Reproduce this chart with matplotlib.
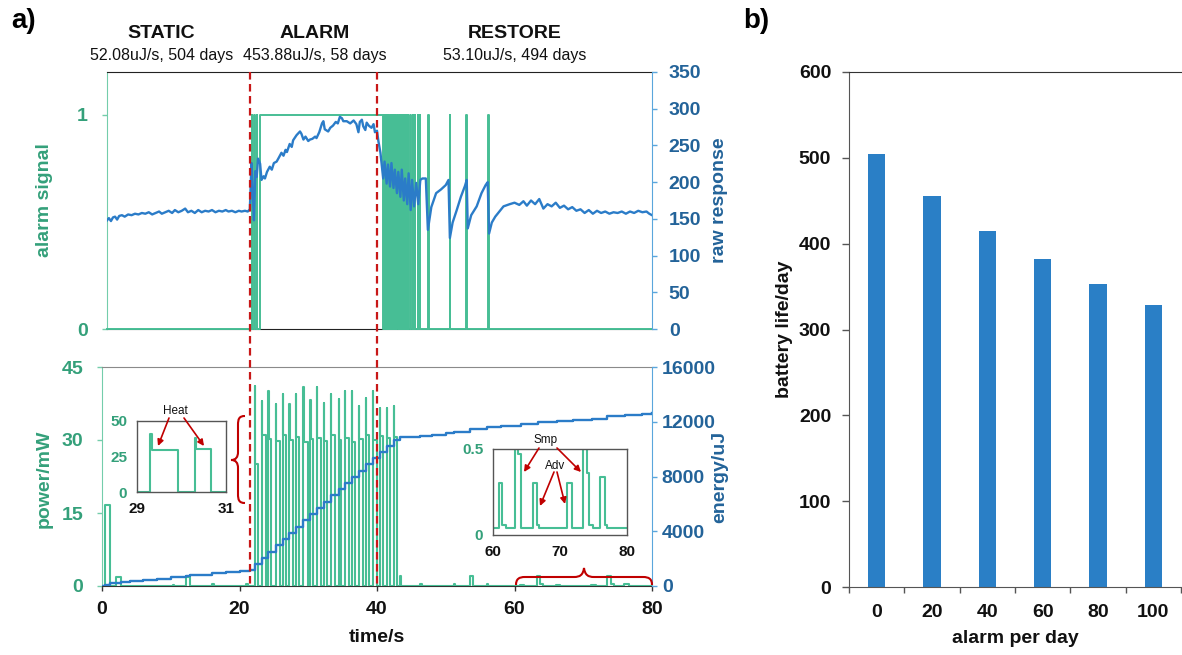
import matplotlib
matplotlib.use("Agg")
import matplotlib.pyplot as plt
from matplotlib.lines import Line2D
from matplotlib.patches import PathPatch, FancyArrowPatch
from matplotlib.path import Path
from matplotlib.transforms import Affine2D, blended_transform_factory

plt.rcParams["font.family"] = ["Liberation Sans", "DejaVu Sans"]

# ---------------- data ----------------
# phase boundaries (s)
phase_edges = [21.5, 40.0]
phase_names = ["STATIC", "ALARM", "RESTORE"]
phase_notes = ["52.08uJ/s, 504 days", "453.88uJ/s, 58 days", "53.10uJ/s, 494 days"]

# alarm signal: on/off times (s)
alarm_on = [21.75, 22.15, 22.5, 22.95, 41.0, 41.3, 41.55, 41.8, 42.05, 42.3, 42.55,
            42.8, 43.1, 43.35, 43.6, 43.9, 44.2, 44.5, 44.85, 45.2, 45.5, 45.9, 46.2,
            47.45, 50.55, 53.0, 56.2]
alarm_off = [21.8, 22.2, 22.55, 40.8, 41.05, 41.35, 41.6, 41.85, 42.1, 42.35, 42.6,
             42.85, 43.15, 43.4, 43.65, 43.95, 44.25, 44.55, 44.9, 45.25, 45.55, 45.95,
             46.25, 47.55, 50.65, 53.1, 56.3]

# raw sensor response
raw_t = [0.73, 1.0, 1.3, 1.6, 1.9, 2.2, 2.5, 2.9, 3.3, 3.8, 4.3, 4.8, 5.3, 5.8, 6.3, 6.8,
         7.3, 7.8, 8.3, 8.7, 9.2, 9.7, 10.2, 10.6, 11.1, 11.6, 12.1, 12.5, 13.0, 13.5,
         14.0, 14.5, 15.0, 15.5, 16.0, 16.5, 17.0, 17.5, 18.0, 18.4, 18.9, 19.4, 19.9,
         20.3, 20.8, 21.2, 21.5,
         21.75, 21.9, 22.1, 22.3, 22.5, 22.7, 23.0, 23.2, 23.5, 23.7, 24.0, 24.4, 24.7,
         25.0, 25.4, 25.7, 26.1, 26.4, 26.7, 26.9, 27.3, 27.6, 27.8, 28.3, 28.8, 29.0,
         29.3, 29.6, 30.0, 30.25, 30.6, 31.0, 31.2, 31.6, 32.0, 32.2, 32.4, 32.9, 33.2,
         33.6, 34.0, 34.3, 34.6, 34.9, 35.1, 35.6, 36.1, 36.6, 37.0, 37.3, 37.5, 37.8,
         38.0, 38.3, 38.5, 38.8, 39.2, 39.5, 39.7, 40.0, 40.2,
         40.5, 40.9, 41.1, 41.4, 41.6, 41.9, 42.1, 42.4, 42.6, 42.9, 43.1, 43.4, 43.6,
         43.9, 44.1, 44.4, 44.6, 44.9, 45.1, 45.4, 45.7, 46.0, 46.3, 46.6, 47.1, 47.4,
         47.9, 48.6, 49.3, 50.0, 50.4, 50.6, 51.0, 51.6, 52.2, 52.8, 53.05, 53.2, 53.7,
         54.5, 55.2, 55.8, 56.1, 56.3, 56.7, 57.2, 57.8, 58.4, 59.3, 60.0, 60.7, 61.3,
         61.8, 62.4, 63.0, 63.6, 64.2, 64.8, 65.4, 66.0, 66.6, 67.2, 67.8, 68.4, 69.0,
         69.6, 70.2, 70.8, 71.4, 72.0, 72.6, 73.2, 73.8, 74.4, 75.0, 75.6, 76.2, 76.8,
         77.4, 78.0, 78.6, 79.2, 79.6, 80.0]
raw_v = [148, 151, 147, 152, 153, 149, 154, 155, 153, 156, 155, 157, 156, 158, 157, 159,
         156, 158, 160, 157, 159, 161, 158, 162, 159, 161, 164, 159, 161, 158,
         162, 159, 161, 160, 162, 159, 161, 160, 162, 160, 161, 159, 161,
         160, 161, 160, 163,
         226, 190, 148, 215, 207, 232, 225, 203, 208, 205, 214, 221, 217,
         226, 228, 233, 240, 236, 244, 241, 252, 248, 257, 264, 269, 266,
         258, 262, 256, 258, 259, 262, 260, 268, 280, 283, 272, 269, 274,
         277, 282, 280, 289, 287, 283, 283, 280, 284, 279, 268, 282, 285,
         276, 271, 281, 277, 274, 279, 268, 270, 256,
         240, 205, 228, 198, 224, 194, 226, 192, 217, 185, 214, 180, 217,
         175, 205, 170, 212, 162, 203, 167, 199, 170, 203, 205, 205, 135,
         166, 185, 190, 196, 203, 124, 145, 162, 180, 195, 203, 137, 155,
         167, 185, 196, 200, 130, 145, 153, 160, 167, 170, 172, 169, 174,
         168, 175, 170, 177, 164, 170, 167, 172, 165, 168, 163, 166, 161,
         163, 158, 162, 157, 161, 158, 160, 157, 159, 158, 160, 157, 160,
         158, 161, 159, 160, 157, 155]

# heating cycles during the alarm (start s, spike mW, plateau mW, duration s)
heat_start = [22.25, 23.2, 24.2, 25.3, 26.3, 27.25, 28.2, 29.3, 30.3, 31.3, 32.3,
              33.3, 34.4, 35.3, 36.4, 37.4, 38.35, 39.4, 40.4, 41.4, 42.4]
heat_peak = [41.1, 38.0, 40.1, 37.5, 39.4, 37.4, 39.5, 40.9, 38.2, 40.8, 37.7,
             39.5, 38.4, 40.1, 40.1, 37.0, 38.6, 40.1, 36.5, 36.5, 37.0]
heat_level = [25.1, 31.0, 30.2, 29.8, 31.0, 30.0, 30.6, 29.6, 30.3, 30.5, 29.8,
              31.0, 30.0, 30.4, 29.6, 30.2, 31.0, 30.0, 30.8, 30.5, 30.6]
heat_len = [0.45, 0.6, 0.4, 0.6, 0.45, 0.55, 0.4, 0.63, 0.36, 0.6, 0.45,
            0.55, 0.4, 0.6, 0.45, 0.55, 0.45, 0.6, 0.5, 0.55, 0.45]

# other power events: sampling / advertising (start s, end s, mW)
pulse_start = [0.45, 2.1, 10.3, 12.2, 16.0, 21.0, 43.3, 46.3, 51.2, 53.5, 56.0, 60.85,
               61.4, 63.3, 63.7, 66.0, 66.6, 71.1, 73.4, 74.0, 74.4, 75.9, 76.7]
pulse_end = [1.15, 2.8, 10.5, 12.8, 16.3, 21.3, 43.55, 46.5, 51.4, 53.9, 56.2, 61.4,
             61.9, 63.7, 64.2, 66.6, 66.9, 71.8, 74.0, 74.4, 74.9, 76.7, 77.0]
pulse_level = [16.6, 1.9, 0.3, 1.9, 0.35, 0.5, 2.1, 0.35, 0.35, 2.1, 0.35, 0.30,
               0.06, 2.1, 0.47, 0.30, 0.06, 0.30, 2.1, 0.36, 0.06, 0.34, 0.06]
power_base = 0.04

# accumulated energy (uJ)
energy_t = [0, 0.45, 1.15, 2.1, 2.8, 4, 6, 8, 10, 12.2, 12.8, 14, 16, 18, 20, 21.5,
            22.25, 23.2, 24.2, 25.3, 26.3, 27.25, 28.2, 29.3, 30.3, 31.3, 32.3, 33.3,
            34.4, 35.3, 36.4, 37.4, 38.35, 39.4, 40.4, 41.4, 42.4,
            43.3, 46.3, 48, 50, 51.2, 53.5, 56, 58, 61.0, 63.4, 66.2, 68.5, 71.2, 73.5,
            76.1, 78.5, 80]
energy_v = [0, 60, 210, 240, 300, 360, 450, 540, 630, 700, 790, 840, 920, 1000, 1080, 1150,
            1600, 2050, 2510, 2960, 3420, 3870, 4340, 4790, 5240, 5700, 6150, 6620,
            7070, 7520, 7980, 8430, 8900, 9350, 9800, 10260, 10700,
            10850, 10950, 11050, 11150, 11230, 11480, 11620, 11700, 11820, 11960, 12060,
            12130, 12230, 12390, 12490, 12570, 12630]

# battery life vs alarm frequency
alarms_per_day = ["0", "20", "40", "60", "80", "100"]
battery_days = [504, 456, 415, 382, 353, 328]

# ---------------- styling ----------------
GREEN = "#47BE95"
GREEN_TXT = "#34A07A"
GREEN_SPINE = "#74CDAB"
BLUE = "#2B7CC8"
BLUE_TXT = "#236399"
BLUE_SPINE = "#5AA6DC"
RED = "#C81818"
BAR = "#2A7FC6"
BOLD14 = dict(fontsize=14, fontweight="bold")

W, H = 1182, 655
fig = plt.figure(figsize=(W / 100, H / 100), dpi=100)
PX = Affine2D().scale(1 / W, -1 / H).translate(0, 1) + fig.transFigure


def rect(x0, y0, x1, y1):
    return [x0 / W, 1 - y1 / H, (x1 - x0) / W, (y1 - y0) / H]


def step_points(starts, ends, levels, base, t0, t1):
    pts = {t0: base, t1: base}
    for e in ends:
        pts[e] = base
    for s, v in zip(starts, levels):
        pts[s] = v
    ts = sorted(pts)
    return ts, [pts[t] for t in ts]


# signals as step series
alarm_t, alarm_v = step_points(alarm_on, alarm_off, [1] * len(alarm_on), 0, 0.727, 80)

seg_s, seg_e, seg_v = list(pulse_start), list(pulse_end), list(pulse_level)
for s, pk, lv, ln in zip(heat_start, heat_peak, heat_level, heat_len):
    seg_s += [s, s + 0.03]
    seg_e += [s + 0.03, s + ln]
    seg_v += [pk, lv]
power_t, power_v = step_points(seg_s, seg_e, seg_v, power_base, 0, 80)

# ---------------- top panel: alarm signal / raw response ----------------
ax_top = fig.add_axes(rect(107, 72, 652, 329))
ax_top.set_xlim(0.727, 80)
ax_top.set_ylim(0, 1.2)
ax_top.plot(alarm_t, alarm_v, color=GREEN, lw=1.4, drawstyle="steps-post",
            zorder=3, clip_on=False)
ax_top.set_yticks([0, 1])
ax_top.set_yticklabels(["0", "1"], **BOLD14)
ax_top.tick_params(axis="y", direction="out", length=3.6, width=1, color=GREEN_SPINE,
                   labelcolor=GREEN_TXT, pad=10)
ax_top.tick_params(axis="x", bottom=False, labelbottom=False)
ax_top.spines["left"].set_color(GREEN_SPINE)
ax_top.spines["top"].set_color("#222222")
ax_top.spines["bottom"].set_color("#222222")
ax_top.spines["right"].set_visible(False)
ax_top.set_ylabel("alarm signal", color=GREEN_TXT, **BOLD14)
ax_top.yaxis.set_label_coords(-0.099, 0.5)

ax_raw = ax_top.twinx()
ax_raw.plot(raw_t, raw_v, color=BLUE, lw=1.7, zorder=3)
ax_raw.set_ylim(0, 350)
ax_raw.set_yticks(range(0, 351, 50))
ax_raw.set_yticklabels([str(v) for v in range(0, 351, 50)], **BOLD14)
ax_raw.tick_params(axis="y", direction="out", length=3.6, width=1, color=BLUE_SPINE,
                   labelcolor=BLUE_TXT, pad=8.5)
for side in ["left", "top", "bottom"]:
    ax_raw.spines[side].set_visible(False)
ax_raw.spines["right"].set_color(BLUE_SPINE)
ax_raw.set_ylabel("raw response", color=BLUE_TXT, rotation=90, **BOLD14)
ax_raw.yaxis.set_label_coords(1.108, 0.5)

# ---------------- bottom panel: power / energy ----------------
ax_bot = fig.add_axes(rect(102, 367, 652, 586))
ax_bot.set_xlim(0, 80)
ax_bot.set_ylim(0, 45)
ax_bot.plot(power_t, power_v, color=GREEN, lw=1.5, drawstyle="steps-post", zorder=3)
ax_bot.set_yticks([0, 15, 30, 45])
ax_bot.set_yticklabels(["0", "15", "30", "45"], **BOLD14)
ax_bot.set_xticks([0, 20, 40, 60, 80])
ax_bot.set_xticklabels(["0", "20", "40", "60", "80"], **BOLD14)
ax_bot.tick_params(axis="y", direction="out", length=3.6, width=1, color=GREEN_SPINE,
                   labelcolor=GREEN_TXT, pad=10)
ax_bot.tick_params(axis="x", direction="out", length=3.6, width=1, color="#333333",
                   labelcolor="#111111", pad=7)
ax_bot.spines["left"].set_color(GREEN_SPINE)
ax_bot.spines["top"].set_color("#8A8A8A")
ax_bot.spines["bottom"].set_color("#333333")
ax_bot.spines["right"].set_visible(False)
ax_bot.set_ylabel("power/mW", color=GREEN_TXT, **BOLD14)
ax_bot.yaxis.set_label_coords(-0.089, 0.49)
ax_bot.set_xlabel("time/s", color="#111111", **BOLD14)
ax_bot.xaxis.set_label_coords(0.5, -0.196)

ax_en = ax_bot.twinx()
ax_en.plot(energy_t, energy_v, color=BLUE, lw=1.7, drawstyle="steps-post", zorder=3)
ax_en.set_ylim(0, 16000)
ax_en.set_yticks(range(0, 16001, 4000))
ax_en.set_yticklabels([str(v) for v in range(0, 16001, 4000)], **BOLD14)
ax_en.tick_params(axis="y", direction="out", length=3.6, width=1, color=BLUE_SPINE,
                  labelcolor=BLUE_TXT, pad=3.5)
for side in ["left", "top", "bottom"]:
    ax_en.spines[side].set_visible(False)
ax_en.spines["right"].set_color(BLUE_SPINE)
ax_en.set_ylabel("energy/uJ", color=BLUE_TXT, rotation=90, **BOLD14)
ax_en.yaxis.set_label_coords(1.107, 0.5)

# ---------------- insets ----------------
def inset(r, xlim, ylim, yt, ytl, xt, xtl):
    a = fig.add_axes(rect(*r))
    a.plot(power_t, power_v, color=GREEN, lw=1.5, drawstyle="steps-post")
    a.set_xlim(*xlim)
    a.set_ylim(*ylim)
    a.set_yticks(yt)
    a.set_yticklabels(ytl, fontsize=11, fontweight="bold", color=GREEN_TXT)
    a.set_xticks(xt)
    a.set_xticklabels(xtl, fontsize=11, fontweight="bold", color="#111111")
    a.tick_params(length=0, pad=7)
    for sp in a.spines.values():
        sp.set_color("#555555")
        sp.set_linewidth(1.0)
    a.set_facecolor("white")
    return a


ins_heat = inset((137, 421, 226, 492), (29, 31), (0, 50), [0, 25, 50], ["0", "25", "50"],
                 [29, 31], ["29", "31"])
ins_smp = inset((493, 449, 627, 535), (60, 80), (0, 0.5), [0, 0.5], ["0", "0.5"],
                [60, 70, 80], ["60", "70", "80"])

# ---------------- phase markers ----------------
vtrans = blended_transform_factory(ax_bot.transData, fig.transFigure)
for xe in phase_edges:
    fig.add_artist(Line2D([xe, xe], [1 - 72 / H, 1 - 586 / H], transform=vtrans,
                          color=RED, lw=1.6, dashes=(3.4, 2.0), zorder=5))

name_x = [161.5, 314.5, 515]
for nx, name, note in zip(name_x, phase_names, phase_notes):
    fig.text(nx / W, 1 - 33 / H, name, ha="center", va="center", fontsize=14,
             fontweight="bold", color="#111111")
    fig.text(nx / W, 1 - 55.5 / H, note, ha="center", va="center", fontsize=11.5,
             color="#111111")

fig.text(23.5 / W, 1 - 21.5 / H, "a)", ha="center", va="center", fontsize=20,
         fontweight="bold")
fig.text(756 / W, 1 - 21.5 / H, "b)", ha="center", va="center", fontsize=20,
         fontweight="bold")

# braces linking the zoomed views
brace_v = [(245, 416), (239, 416), (238, 419), (238, 425), (238, 452), (238, 457),
           (236, 460), (231, 460), (236, 460), (238, 463), (238, 468), (238, 494),
           (238, 500), (239, 503), (245, 503)]
brace_h = [(516, 585), (516, 579), (519, 577), (525, 577), (574, 577), (580, 577),
           (583, 575), (584, 568), (585, 575), (588, 577), (594, 577), (643, 577),
           (649, 577), (652, 579), (652, 585)]
codes = [Path.MOVETO, Path.CURVE4, Path.CURVE4, Path.CURVE4, Path.LINETO,
         Path.CURVE4, Path.CURVE4, Path.CURVE4, Path.CURVE4, Path.CURVE4, Path.CURVE4,
         Path.LINETO, Path.CURVE4, Path.CURVE4, Path.CURVE4]
for verts in (brace_v, brace_h):
    fig.add_artist(PathPatch(Path(verts, codes), transform=PX, fill=False,
                             edgecolor="#C00000", lw=1.5, zorder=5))

# annotation arrows
arrows = [((169, 418), (158, 446)), ((184, 418), (204, 446)),
          ((539, 448), (524, 472)), ((557, 448), (581, 472)),
          ((554, 472), (540, 506)), ((557, 472), (565, 504))]
for a0, a1 in arrows:
    fig.add_artist(FancyArrowPatch(a0, a1, transform=PX, arrowstyle="-|>",
                                   mutation_scale=9, color="#C00000", lw=1.2,
                                   shrinkA=0, shrinkB=0, zorder=6))
for tx, ty, lab in [(175.5, 411, "Heat"), (546, 439.5, "Smp"), (555.3, 466, "Adv")]:
    fig.text(tx / W, 1 - ty / H, lab, ha="center", va="center", fontsize=8.5,
             color="#111111", zorder=7)

# ---------------- panel b: battery life ----------------
ax_b = fig.add_axes(rect(849, 72, 1181, 587))
xpos = list(range(len(alarms_per_day)))
ax_b.bar(xpos, battery_days, width=0.31, color=BAR, zorder=2)
ax_b.set_xlim(-0.5, len(alarms_per_day) - 0.5)
ax_b.set_ylim(0, 600)
ax_b.set_yticks(range(0, 601, 100))
ax_b.set_yticklabels([str(v) for v in range(0, 601, 100)], **BOLD14)
ax_b.set_xticks(xpos)
ax_b.set_xticklabels(alarms_per_day, **BOLD14)
ax_b.set_xticks([i - 0.5 for i in range(len(alarms_per_day) + 1)], minor=True)
ax_b.tick_params(axis="x", which="major", length=0, pad=12, labelcolor="#111111")
ax_b.tick_params(axis="x", which="minor", direction="out", length=4.5, width=1,
                 color="#555555")
ax_b.tick_params(axis="y", direction="out", length=4.8, width=1, color="#555555",
                 labelcolor="#111111", pad=8)
for side in ["left", "bottom"]:
    ax_b.spines[side].set_color("#555555")
ax_b.spines["top"].set_color("#333333")
ax_b.spines["right"].set_visible(False)
ax_b.set_ylabel("battery life/day", color="#111111", **BOLD14)
ax_b.yaxis.set_label_coords(-0.169, 0.5)
ax_b.set_xlabel("alarm per day", color="#111111", **BOLD14)
ax_b.xaxis.set_label_coords(0.5, -0.083)

fig.savefig("out.png", dpi=100)
